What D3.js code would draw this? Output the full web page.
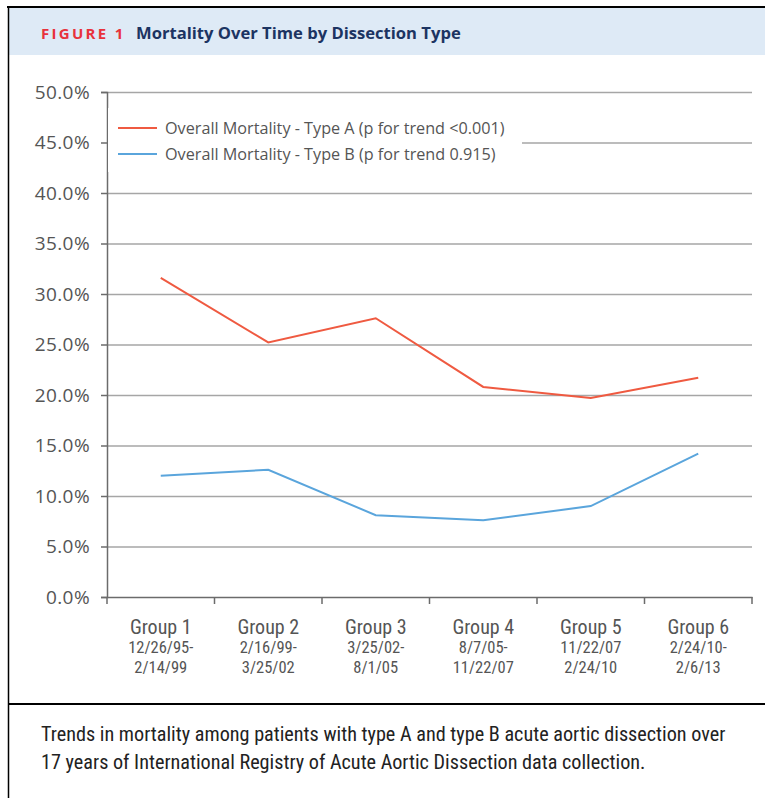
<!DOCTYPE html>
<html>
<head>
<meta charset="utf-8">
<script src="https://cdn.jsdelivr.net/npm/d3@7"></script>
<style>
  body { margin: 0; background: #fff; }
  svg { display: block; }
</style>
</head>
<body>
<svg width="765" height="798"></svg>
<script>
// グループ名と期間
const groups = ["Group 1", "Group 2", "Group 3", "Group 4", "Group 5", "Group 6"];
const periodStart = ["12/26/95-", "2/16/99-", "3/25/02-", "8/7/05-", "11/22/07", "2/24/10-"];
const periodEnd = ["2/14/99", "3/25/02", "8/1/05", "11/22/07", "2/24/10", "2/6/13"];

// 死亡率 (%)
const typeA = [31.6, 25.2, 27.6, 20.8, 19.7, 21.7];
const typeB = [12.0, 12.6, 8.1, 7.6, 9.0, 14.2];

const seriesNames = [
  "Overall Mortality - Type A (p for trend <0.001)",
  "Overall Mortality - Type B (p for trend 0.915)"
];
const yTicks = [0, 5, 10, 15, 20, 25, 30, 35, 40, 45, 50];

const svg = d3.select("svg");
const condensed = "'Liberation Sans Narrow', 'Roboto Condensed', 'Open Sans', sans-serif";

// 枠とヘッダー
svg.append("rect").attr("x", 8).attr("y", 8).attr("width", 757).attr("height", 47).attr("fill", "#deeaf6");
svg.append("line").attr("x1", 7).attr("x2", 765).attr("y1", 7).attr("y2", 7).attr("stroke", "#000").attr("stroke-width", 2);
svg.append("line").attr("x1", 8.5).attr("x2", 8.5).attr("y1", 6).attr("y2", 798).attr("stroke", "#000").attr("stroke-width", 1.5);
svg.append("line").attr("x1", 8).attr("x2", 765).attr("y1", 704).attr("y2", 704).attr("stroke", "#000").attr("stroke-width", 2);

const title = svg.append("text").attr("x", 41).attr("y", 39);
title.append("tspan").text("FIGURE 1")
  .attr("fill", "#e8323c").attr("font-weight", "bold").attr("font-size", 15)
  .attr("letter-spacing", 2.3).attr("font-family", "'Open Sans', sans-serif");
title.append("tspan").text("Mortality Over Time by Dissection Type")
  .attr("x", 136).attr("fill", "#1c3462").attr("font-weight", "bold").attr("font-size", 16.6)
  .attr("letter-spacing", 0).attr("font-family", "'Open Sans', sans-serif");

// グラフ
const x = d3.scaleBand().domain(groups).range([107, 752]);
const y = d3.scaleLinear().domain([0, 50]).range([597, 92]);

// グリッド
svg.append("g")
  .attr("transform", "translate(107,0)")
  .call(d3.axisLeft(y).tickValues(yTicks.filter(d => d > 0)).tickSize(-645).tickFormat(""))
  .call(g => g.select(".domain").remove())
  .call(g => g.selectAll("line").attr("stroke", "#a6a6a6").attr("stroke-width", 1.5));

// Y軸
svg.append("g")
  .attr("transform", "translate(107,0)")
  .call(d3.axisLeft(y).tickValues(yTicks).tickSize(6).tickPadding(11).tickFormat(d => d.toFixed(1) + "%"))
  .call(g => g.select(".domain").attr("stroke", "#6b6b6b").attr("stroke-width", 1.5))
  .call(g => g.selectAll("line").attr("stroke", "#6b6b6b").attr("stroke-width", 1.5))
  .call(g => g.selectAll("text").attr("fill", "#555").attr("font-size", 19)
    .attr("letter-spacing", 0.4).attr("font-family", "'Open Sans', sans-serif"));

// X軸
const xAxis = svg.append("g")
  .attr("transform", "translate(0,597)")
  .call(d3.axisBottom(x).tickSize(0).tickFormat(""))
  .call(g => g.select(".domain").attr("stroke", "#6b6b6b").attr("stroke-width", 1.5));
xAxis.selectAll(".sep")
  .data(groups.concat(["end"]))
  .join("line")
  .attr("x1", (d, i) => 107 + i * x.step()).attr("x2", (d, i) => 107 + i * x.step())
  .attr("y1", 0).attr("y2", 7).attr("stroke", "#6b6b6b").attr("stroke-width", 1.5);

const labels = svg.append("g").attr("fill", "#555").attr("text-anchor", "middle")
  .attr("font-family", condensed);
groups.forEach((g, i) => {
  const cx = x(g) + x.bandwidth() / 2;
  labels.append("text").attr("x", cx).attr("y", 634).attr("font-size", 20).text(g);
  labels.append("text").attr("x", cx).attr("y", 653).attr("font-size", 16.5).text(periodStart[i]);
  labels.append("text").attr("x", cx).attr("y", 673).attr("font-size", 16.5).text(periodEnd[i]);
});

// 折れ線
const line = d3.line()
  .x((d, i) => x(groups[i]) + x.bandwidth() / 2)
  .y(d => y(d));
const colors = ["#ef5a41", "#5aa5dc"];
[typeA, typeB].forEach((s, k) => {
  svg.append("path").datum(s).attr("d", line)
    .attr("fill", "none").attr("stroke", colors[k]).attr("stroke-width", 2);
});

// 凡例
const legend = svg.append("g");
legend.append("rect").attr("x", 108).attr("y", 108).attr("width", 414).attr("height", 64).attr("fill", "#fff");
seriesNames.forEach((name, k) => {
  const ly = 128 + k * 26;
  legend.append("line").attr("x1", 118).attr("x2", 157).attr("y1", ly).attr("y2", ly)
    .attr("stroke", colors[k]).attr("stroke-width", 2);
  legend.append("text").attr("x", 165).attr("y", ly + 5.5).attr("fill", "#555")
    .attr("font-size", 16.2).attr("font-family", "'Open Sans', sans-serif").text(name);
});

// キャプション
const caption = [
  "Trends in mortality among patients with type A and type B acute aortic dissection over",
  "17 years of International Registry of Acute Aortic Dissection data collection."
];
svg.append("g").selectAll("text").data(caption).join("text")
  .attr("x", 41).attr("y", (d, i) => 741 + i * 28)
  .attr("fill", "#222").attr("font-size", 20.2).attr("font-family", condensed)
  .text(d => d);
</script>
</body>
</html>
